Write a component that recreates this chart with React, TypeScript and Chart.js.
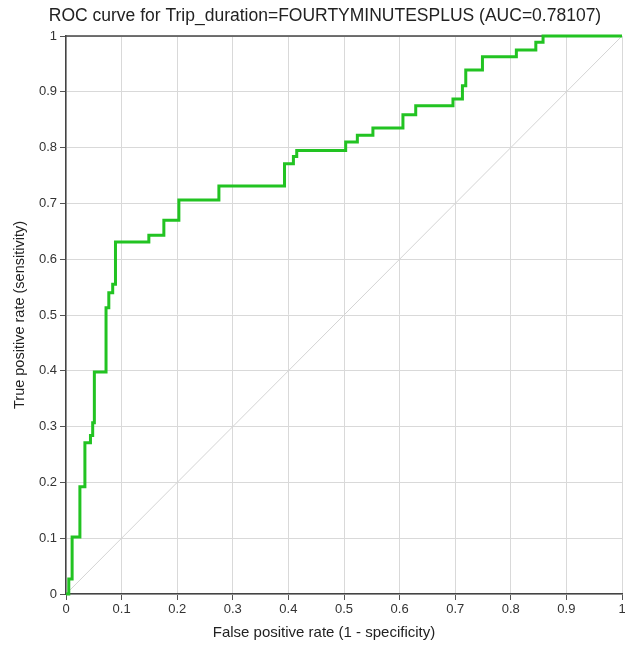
import React, { useEffect, useRef } from "react";
import { Chart, registerables } from "chart.js";

Chart.register(...registerables);

const TITLE = "ROC curve for Trip_duration=FOURTYMINUTESPLUS (AUC=0.78107)";
const X_TITLE = "False positive rate (1 - specificity)";
const Y_TITLE = "True positive rate (sensitivity)";

const fpr = [0, 0.005, 0.011, 0.025, 0.034, 0.044, 0.048, 0.051, 0.072, 0.077, 0.084, 0.089, 0.149, 0.176, 0.203, 0.275, 0.393, 0.409, 0.415, 0.503, 0.524, 0.552, 0.606, 0.629, 0.696, 0.713, 0.719, 0.749, 0.81, 0.845, 0.858, 1];
const tpr = [0, 0.027, 0.102, 0.192, 0.271, 0.284, 0.307, 0.398, 0.513, 0.54, 0.555, 0.631, 0.643, 0.67, 0.706, 0.731, 0.771, 0.784, 0.795, 0.81, 0.822, 0.835, 0.859, 0.875, 0.887, 0.911, 0.939, 0.963, 0.975, 0.989, 1, 1];

const diagX = [0, 1];
const diagY = [0, 1];

const FONT = "'Liberation Sans', Arial, sans-serif";

const decorations = {
  id: "decorations",
  beforeDatasetsDraw(chart: any) {
    const { ctx, chartArea } = chart;
    ctx.save();
    ctx.strokeStyle = "#444";
    ctx.lineWidth = 1.5;
    ctx.beginPath();
    ctx.moveTo(chartArea.left, chartArea.top);
    ctx.lineTo(chartArea.right, chartArea.top);
    ctx.stroke();
    ctx.restore();
  },
  afterDraw(chart: any) {
    const { ctx } = chart;
    ctx.save();
    ctx.fillStyle = "#222";
    ctx.textAlign = "center";
    ctx.textBaseline = "middle";
    ctx.font = `17.5px ${FONT}`;
    ctx.fillText(TITLE, 325, 16);
    ctx.font = `15px ${FONT}`;
    ctx.fillText(X_TITLE, 324, 633);
    ctx.restore();
  },
};

const fmt = (v: any) => String(Number(Number(v).toFixed(1)));

export default function App() {
  const ref = useRef<HTMLCanvasElement | null>(null);
  useEffect(() => {
    document.body.style.margin = "0";
    const chart = new Chart(ref.current as HTMLCanvasElement, {
      type: "scatter",
      data: {
        datasets: [
          {
            data: fpr.map((x, i) => ({ x, y: tpr[i] })),
            showLine: true,
            stepped: "before",
            borderColor: "#22c322",
            borderWidth: 3,
            pointRadius: 0,
            clip: 4,
          } as any,
          {
            data: diagX.map((x, i) => ({ x, y: diagY[i] })),
            showLine: true,
            borderColor: "#d4d4d4",
            borderWidth: 1,
            pointRadius: 0,
          },
        ],
      },
      options: {
        animation: false,
        responsive: false,
        maintainAspectRatio: false,
        layout: { padding: { left: 0, right: 3, top: 36, bottom: 0 } },
        plugins: {
          legend: { display: false },
          tooltip: { enabled: false },
          title: { display: false },
        },
        scales: {
          x: {
            type: "linear",
            min: 0,
            max: 1,
            ticks: { stepSize: 0.1, color: "#333", font: { family: FONT, size: 13 }, padding: 2, callback: fmt, maxRotation: 0 },
            grid: { color: "#d9d9d9", tickColor: "#555", tickLength: 6 },
            border: { color: "#444", width: 1.5 },
            afterFit: (s: any) => { s.height = 51; s.paddingLeft = 0; s.paddingRight = 0; },
          },
          y: {
            type: "linear",
            min: 0,
            max: 1,
            ticks: { stepSize: 0.1, color: "#333", font: { family: FONT, size: 13 }, padding: 3, callback: fmt },
            grid: { color: "#d9d9d9", tickColor: "#555", tickLength: 6 },
            border: { color: "#444", width: 1.5 },
            title: { display: true, text: Y_TITLE, color: "#222", font: { family: FONT, size: 14.5 }, padding: { top: 11, bottom: 0 } },
            afterFit: (s: any) => { s.width = 66; s.paddingTop = 0; s.paddingBottom = 0; },
          },
        },
      },
      plugins: [decorations],
    });
    return () => chart.destroy();
  }, []);
  return (
    <div style={{ width: 625, height: 645, background: "#fff" }}>
      <canvas ref={ref} width={625} height={645} style={{ display: "block" }} />
    </div>
  );
}
